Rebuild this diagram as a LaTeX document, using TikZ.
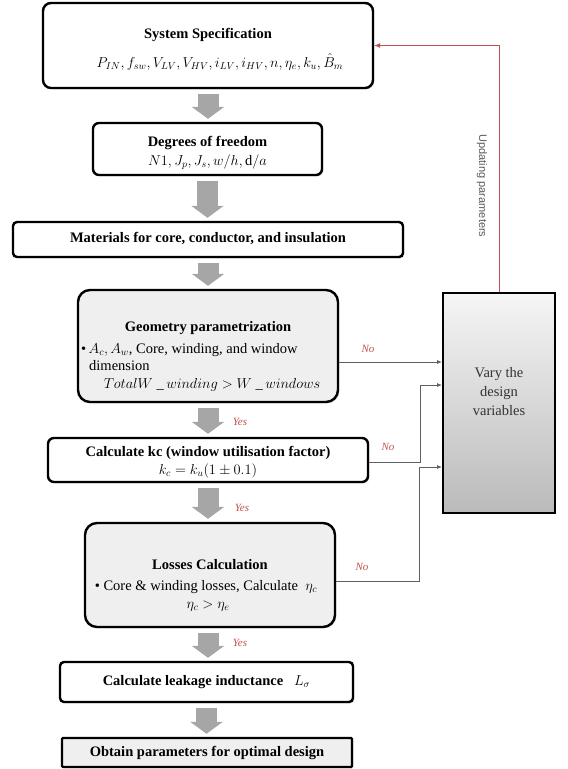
\documentclass[tikz,border=0pt]{standalone}
\usepackage{fontspec}
\setmainfont{Liberation Serif}
\newfontfamily\updfont{Liberation Sans}
\usetikzlibrary{arrows.meta,shadows,calc}
\definecolor{redline}{HTML}{C0504D}
\definecolor{fatgray}{HTML}{A6A6A6}
\definecolor{conngray}{HTML}{5F5F5F}
\definecolor{boxgray}{HTML}{EFEFEF}
\definecolor{txtgray}{HTML}{333333}
\begin{document}
\begin{tikzpicture}[x=1pt,y=-1pt,
  box/.style={draw=black, line width=2.4pt, fill=white, inner sep=0pt,
    drop shadow={opacity=0.3, shadow xshift=1.3pt, shadow yshift=-1.3pt}},
  titletext/.style={font=\fontsize{14.5}{17}\selectfont\bfseries, inner sep=0pt},
  bodytext/.style={font=\fontsize{14.5}{17}\selectfont, inner sep=0pt},
  fatarrow/.style={draw=fatgray, line width=21pt, -{Triangle[width=32pt,length=12pt]}},
  conn/.style={draw=conngray, line width=0.8pt, -{Latex[length=5pt,width=4pt]}},
  redconn/.style={draw=redline, line width=0.8pt, -{Latex[length=6pt,width=5pt]}},
  lab/.style={font=\fontsize{11}{13}\selectfont\itshape, text=redline, inner sep=0pt}
]
\useasboundingbox (0,0) rectangle (568,769);

% boxes
\node[box, rounded corners=8pt, minimum width=330pt, minimum height=85pt] (spec) at (208,45.5) {};
\node[box, rounded corners=6pt, minimum width=229pt, minimum height=52pt] (deg) at (207.5,149) {};
\node[box, rounded corners=4pt, minimum width=390pt, minimum height=35pt] (mat) at (208,239.5) {};
\node[box, rounded corners=12pt, fill=boxgray, minimum width=260pt, minimum height=112pt] (geo) at (208,346) {};
\node[box, rounded corners=6pt, minimum width=320pt, minimum height=44pt] (kc) at (208,460) {};
\node[box, rounded corners=12pt, fill=boxgray, minimum width=250pt, minimum height=104pt] (loss) at (210,575) {};
\node[box, rounded corners=4pt, minimum width=293pt, minimum height=40pt] (leak) at (206.5,682) {};
\node[box, rounded corners=1pt, fill=boxgray, minimum width=290pt, minimum height=29pt] (obt) at (207,752.5) {};
\node[draw=black, line width=2pt, inner sep=0pt, top color=boxgray!60, bottom color=black!27,
  drop shadow={opacity=0.3, shadow xshift=1.3pt, shadow yshift=-1.3pt},
  minimum width=112pt, minimum height=220pt] (vary) at (499,403) {};

% texts
\node[titletext] (t1) at (208,35) {System Specification};
\node[bodytext] (f1) at (220,62) {$P_{IN}, f_{sw}, V_{LV}, V_{HV}, i_{LV}, i_{HV}, n, \eta_e, k_u, \hat{B}_m$};
\node[titletext] (t2) at (207.5,143) {Degrees of freedom};
\node[bodytext] (f2) at (207.5,162) {$N1, J_p, J_s, w/h, \mathrm{d}/a$};
\node[titletext] (t3) at (208,239) {Materials for core, conductor, and insulation};
\node[titletext] (t4) at (208,328) {Geometry parametrization};
\node[bodytext, anchor=west] (b4) at (81,350) {•\,$A_c, A_w$,\ Core, winding, and window};
\node[bodytext, anchor=west] (b4b) at (89,366) {dimension};
\node[bodytext] (f4) at (212,385) {$TotalW\ \_\,winding > W\ \_\,windows$};
\node[titletext] (t5) at (208,453) {Calculate kc (window utilisation factor)};
\node[bodytext] (f5) at (208,471) {$k_c = k_u(1\pm 0.1)$};
\node[titletext] (t6) at (210,565) {Losses Calculation};
\node[bodytext] (b6) at (206,587) {•\ Core \& winding losses, Calculate\ \ $\eta_c$};
\node[bodytext] (f6) at (208,606) {$\eta_c > \eta_e$};
\node[titletext] (t7) at (206.5,682) {Calculate leakage inductance\ \ \ \mdseries$L_\sigma$};
\node[titletext] (t8) at (207,752.5) {Obtain parameters for optimal design};
\node[bodytext, align=center, text=txtgray, font=\fontsize{14.5}{19}\selectfont] (t9) at (499,392) {Vary the\\design\\variables};

% fat arrows
\draw[fatarrow] ([yshift=-5pt]spec.south) -- ([yshift=3pt]spec.south |- deg.north);
\draw[fatarrow] ([yshift=-5pt]deg.south) -- ([yshift=3pt]deg.south |- mat.north);
\draw[fatarrow] ([yshift=-5pt]mat.south) -- ([yshift=3pt]mat.south |- geo.north);
\draw[fatarrow] ([yshift=-5pt]geo.south) -- ([yshift=3pt]geo.south |- kc.north);
\draw[fatarrow] ([yshift=-5pt]kc.south) -- ([yshift=3pt]kc.south |- loss.north);
\draw[fatarrow] ([yshift=-5pt]loss.south -| kc.south) -- ([yshift=3pt]kc.south |- leak.north);
\draw[fatarrow] ([yshift=-5pt]leak.south) -- ([yshift=3pt]leak.south |- obt.north);

% No connectors
\coordinate (g1) at ($(geo.east)+(0,16)$);
\draw[conn] (g1) -- (g1 -| vary.west);
\coordinate (k1) at ($(kc.east)+(0,2)$);
\coordinate (kb) at (420,385);
\draw[conn, -] (k1) -| (kb);
\draw[conn] (kb) -- (kb -| vary.west);
\coordinate (l1) at ($(loss.east)+(0,6)$);
\coordinate (lb) at (419,467);
\draw[conn, -] (l1) -| (lb);
\draw[conn] (lb) -- (lb -| vary.west);

% feedback
\draw[redconn] (vary.north) |- (spec.east);
\node[rotate=-90, font=\updfont\fontsize{11}{13}\selectfont, text=black!65, inner sep=0pt] (upd) at (482,186) {Updating parameters};

% labels
\node[lab] (no1) at (368,349) {No};
\node[lab] (no2) at (388,447) {No};
\node[lab] (no3) at (362,567) {No};
\node[lab] (yes1) at (240,422) {Yes};
\node[lab] (yes2) at (242,508) {Yes};
\node[lab] (yes3) at (240,643) {Yes};
\end{tikzpicture}
\end{document}
